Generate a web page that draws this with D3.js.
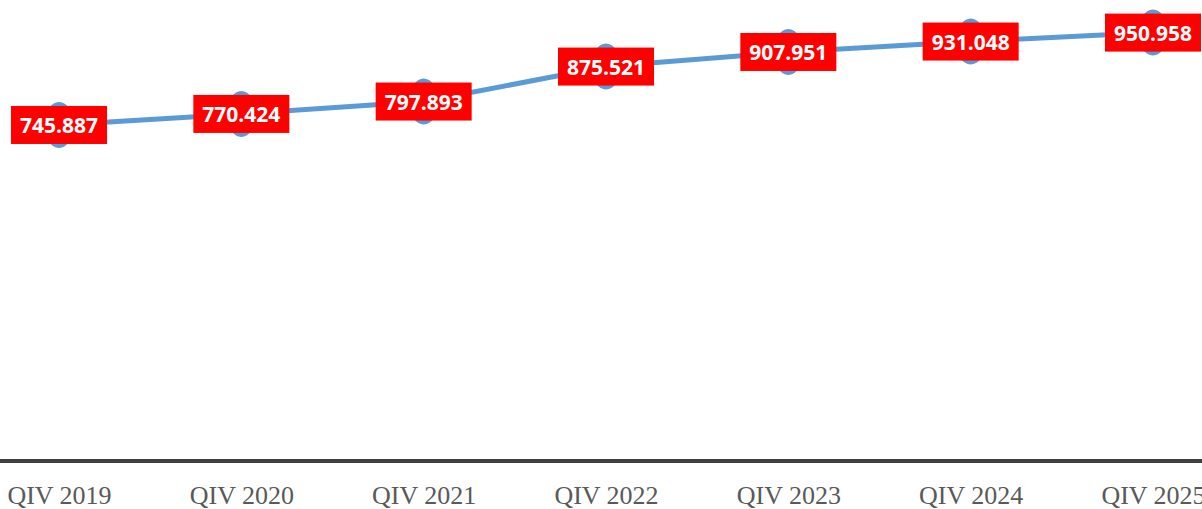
<!DOCTYPE html>
<html>
<head>
<meta charset="utf-8">
<script src="https://cdn.jsdelivr.net/npm/d3@7"></script>
<style>
  html, body { margin: 0; padding: 0; background: #fff; }
  svg { display: block; }
</style>
</head>
<body>
<svg width="1202" height="509"></svg>
<script>
    var categories = ["QIV 2019", "QIV 2020", "QIV 2021", "QIV 2022", "QIV 2023", "QIV 2024", "QIV 2025"];
    var values = [745.887, 770.424, 797.893, 875.521, 907.951, 931.048, 950.958];
    var labels = ["745.887", "770.424", "797.893", "875.521", "907.951", "931.048", "950.958"];

    function paint() {
      var svg = d3.select('svg');

      const xScale = d3.scalePoint()
        .domain(categories)
        .range([59, 1153]);

      const yScale = d3.scaleLinear()
        .domain([0, 1000])
        .range([461, 10.5]);

      // x axis
      const xAxis = svg.append('g')
        .attr('transform', 'translate(0, 461)')
        .call(d3.axisBottom(xScale).tickSize(0).tickPadding(0));
      xAxis.select('.domain').remove();
      xAxis.append('line')
        .attr('x1', 0).attr('x2', 1202)
        .attr('y1', 0).attr('y2', 0)
        .attr('stroke', '#404040')
        .attr('stroke-width', 4);
      xAxis.selectAll('.tick text')
        .attr('y', 43)
        .attr('dy', 0)
        .attr('fill', '#595959')
        .style('font-family', '"Liberation Serif", "Times New Roman", serif')
        .style('font-size', '26px');

      const line = d3.line()
        .x((d, i) => xScale(categories[i]))
        .y((d) => yScale(d));

      svg.append('path')
        .datum(values)
        .attr('fill', 'none')
        .attr('stroke', '#5B9BD5')
        .attr('stroke-width', 5)
        .attr('d', line);

      svg.selectAll('.marker')
        .data(values)
        .enter()
        .append('ellipse')
        .attr('class', 'marker')
        .attr('cx', (d, i) => xScale(categories[i]))
        .attr('cy', (d) => yScale(d))
        .attr('rx', 15)
        .attr('ry', 23)
        .attr('fill', '#5B9BD5');

      const lab = svg.selectAll('.lab')
        .data(values)
        .enter()
        .append('g')
        .attr('class', 'lab')
        .attr('transform', (d, i) => `translate(${xScale(categories[i])}, ${yScale(d)})`);

      lab.append('rect')
        .attr('x', -48)
        .attr('y', -19)
        .attr('width', 96)
        .attr('height', 38)
        .attr('fill', '#FF0000');

      lab.append('text')
        .attr('text-anchor', 'middle')
        .attr('y', 8)
        .attr('fill', '#fff')
        .style('font-family', '"Open Sans", Lato, sans-serif')
        .style('font-weight', 'bold')
        .style('font-size', '21px')
        .text((d, i) => labels[i]);
    }

    paint();
</script>
</body>
</html>
